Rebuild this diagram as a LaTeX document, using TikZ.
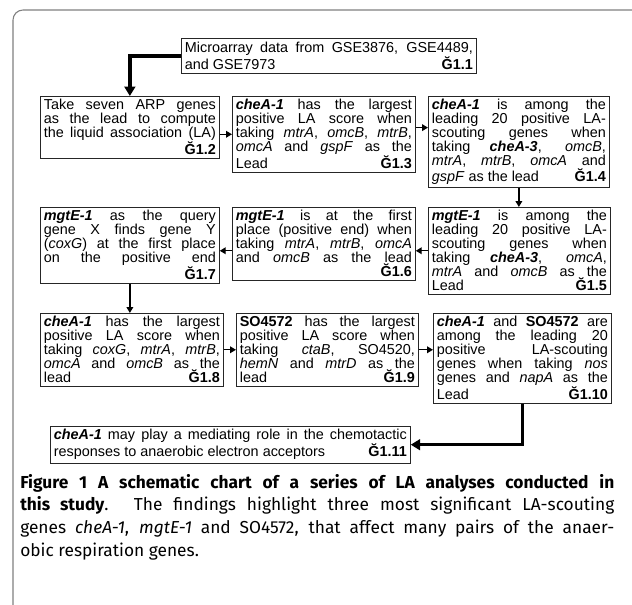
\documentclass[tikz,border=0pt]{standalone}
\usepackage{fontspec}
\setmainfont{Liberation Sans}
\newfontfamily\capfont{Fira Sans}
\usetikzlibrary{arrows.meta}

\newcommand{\gi}[1]{\textbf{\textit{#1}}}
\newcommand{\tagno}[1]{\hfill\textbf{Ğ#1}}

\begin{document}
\begin{tikzpicture}[x=0.75pt,y=-0.75pt,
  gbox/.style={draw=black!85,line width=0.6pt,anchor=north west,inner xsep=2.6pt,inner ysep=2.3pt,
    align=justify,font=\fontsize{10.8}{10.5}\selectfont},
  arr/.style={line width=1.1pt,-{Triangle[length=4.5pt,width=5pt]}},
  bigarr/.style={line width=2.6pt,-{Triangle[length=7pt,width=8pt]}},
  frame/.style={draw=black!50,line width=0.8pt,rounded corners=7.5pt}]

\useasboundingbox (0,0) rectangle (632,604);
\fill[white] (0,0) rectangle (632,604);
\draw[frame] (13,640) -- (13,10) -- (650,10) -- (650,640);

% top
\node[gbox,text width=216pt,inner ysep=2.8pt] (b11) at (181,38)
  {Microarray data from GSE3876, GSE4489,\linebreak and GSE7973\tagno{1.1}};

% first row
\node[gbox,text width=129pt] (b12) at (40,96)
  {Take seven ARP genes\linebreak as the lead to compute\linebreak the liquid association (LA)\linebreak\mbox{}\tagno{1.2}};
\node[gbox,text width=132pt] (b13) at (232,96)
  {\gi{cheA-1} has the largest\linebreak positive LA score when\linebreak taking \textit{mtrA}, \textit{omcB}, \textit{mtrB},\linebreak \textit{omcA} and \textit{gspF} as the\linebreak Lead\tagno{1.3}};
\node[gbox,text width=130.5pt] (b14) at (428,96)
  {\gi{cheA-1} is among the\linebreak leading 20 positive LA-\linebreak scouting genes when\linebreak taking \gi{cheA-3}, \textit{omcB},\linebreak \textit{mtrA}, \textit{mtrB}, \textit{omcA} and\linebreak \textit{gspF} as the lead\tagno{1.4}};

% second row
\node[gbox,text width=129pt] (b17) at (40,207)
  {\gi{mgtE-1} as the query\linebreak gene X finds gene Y\linebreak (\textit{coxG}) at the first place\linebreak on the positive end\linebreak\mbox{}\tagno{1.7}};
\node[gbox,text width=132pt] (b16) at (232,207)
  {\gi{mgtE-1} is at the first\linebreak place (positive end) when\linebreak taking \textit{mtrA}, \textit{mtrB}, \textit{omcA}\linebreak and \textit{omcB} as the lead\linebreak\mbox{}\tagno{1.6}};
\node[gbox,text width=131.25pt] (b15) at (428,207)
  {\gi{mgtE-1} is among the\linebreak leading 20 positive LA-\linebreak scouting genes when\linebreak taking \gi{cheA-3}, \textit{omcA},\linebreak \textit{mtrA} and \textit{omcB} as the\linebreak Lead\tagno{1.5}};

% third row
\node[gbox,text width=132pt] (b18) at (40,313)
  {\gi{cheA-1} has the largest\linebreak positive LA score when\linebreak taking \textit{coxG}, \textit{mtrA}, \textit{mtrB},\linebreak \textit{omcA} and \textit{omcB} as the\linebreak lead\tagno{1.8}};
\node[gbox,text width=131.25pt] (b19) at (236,313)
  {\textbf{SO4572} has the largest\linebreak positive LA score when\linebreak taking \textit{ctaB}, SO4520,\linebreak \textit{hemN} and \textit{mtrD} as the\linebreak lead\tagno{1.9}};
\node[gbox,text width=128.25pt] (b110) at (433,313)
  {\gi{cheA-1} and \textbf{SO4572} are\linebreak among the leading 20\linebreak positive LA-scouting\linebreak genes when taking \textit{nos}\linebreak genes and \textit{napA} as the\linebreak Lead\tagno{1.10}};

% conclusion
\node[gbox,text width=264.75pt] (b111) at (50,426)
  {\gi{cheA-1} may play a mediating role in the chemotactic\linebreak responses to anaerobic electron acceptors\tagno{1.11}};

% arrows
\path ([yshift=5pt]b13.east) coordinate (c34);
\draw[bigarr] (b11.west) -| (b12.north);
\draw[arr] (b12.east |- b13.west) -- (b13.west);
\draw[arr] (c34) -- (c34 -| b14.west);
\draw[arr] (b14.south) -- (b15.north -| b14.south);
\draw[arr] (b15.west) -- (b15.west -| b16.east);
\draw[arr] (b16.west |- b15.west) -- (b17.east |- b15.west);
\draw[arr] (b17.south) -- (b18.north -| b17.south);
\draw[arr] (b18.east |- b19.west) -- (b19.west);
\draw[arr] (b19.east) -- (b19.east -| b110.west);
\draw[bigarr] (b110.south) |- (b111.east);

% caption
\node[anchor=north west,inner sep=0pt,text width=445.5pt,align=justify,
  font=\capfont\fontsize{13}{17}\selectfont] (cap) at (20,474)
  {\textbf{Figure 1 A schematic chart of a series of LA analyses conducted in\linebreak this study}. The findings highlight three most significant LA-scouting\linebreak genes \textit{cheA-1}, \textit{mgtE-1} and SO4572, that affect many pairs of the anaer-\linebreak obic respiration genes.};
\end{tikzpicture}
\end{document}
